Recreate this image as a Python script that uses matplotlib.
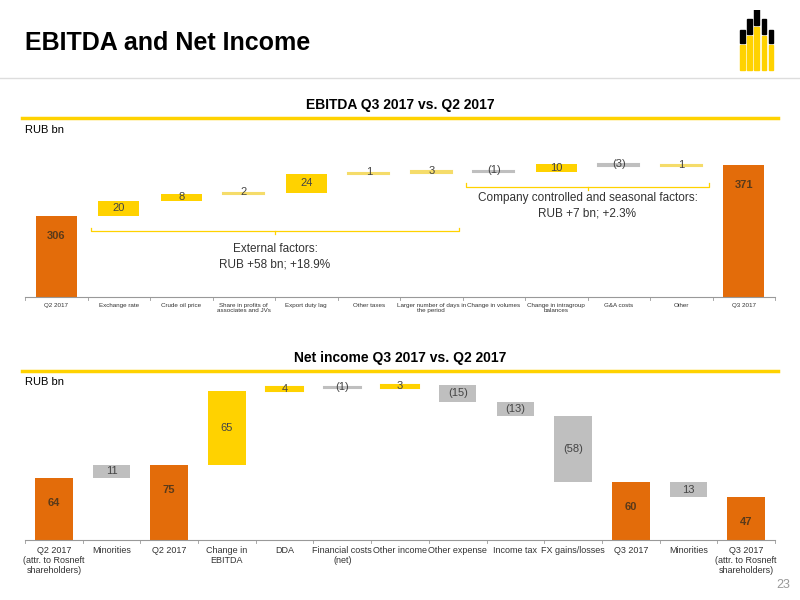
import matplotlib
matplotlib.use("Agg")
import matplotlib.pyplot as plt
from matplotlib.patches import Rectangle

plt.rcParams['font.family'] = ['Liberation Sans', 'DejaVu Sans']

top_cats = ["Q2 2017", "Exchange rate", "Crude oil price", "Share in profits of\nassociates and JVs",
            "Export duty lag", "Other taxes", "Larger number of days in\nthe period", "Change in volumes",
            "Change in intragroup\nbalances", "G&A costs", "Other", "Q3 2017"]
top_vals = [306, 20, 8, 2, 24, 1, 3, -1, 10, -3, 1, 371]

bot_cats = ["Q2 2017\n(attr. to Rosneft\nshareholders)", "Minorities", "Q2 2017", "Change in\nEBITDA", "DDA",
            "Financial costs\n(net)", "Other income", "Other expense", "Income tax", "FX gains/losses",
            "Q3 2017", "Minorities", "Q3 2017\n(attr. to Rosneft\nshareholders)"]
bot_vals = [64, 11, 75, 65, 4, -1, 3, -15, -13, -58, 60, -13, 47]
bot_total = [True, False, True, False, False, False, False, False, False, False, True, False, True]

ORANGE = "#E36C0A"
YELLOW = "#FFD200"
LYELLOW = "#F5DC6A"
GRAY = "#BFBFBF"

fig = plt.figure(figsize=(8, 6), dpi=100)
W, H = 800, 600
def ax_at(x0, y0, x1, y1):
    return fig.add_axes([x0 / W, 1 - y1 / H, (x1 - x0) / W, (y1 - y0) / H])

fig.text(25 / W, 1 - 43 / H, "EBITDA and Net Income", fontsize=18, fontweight='bold', va='center')
fig.add_artist(plt.Line2D([0, 1], [1 - 78 / H, 1 - 78 / H], color="#DDDDDD", lw=1))
fig.text(400 / W, 1 - 105 / H, "EBITDA Q3 2017 vs. Q2 2017", fontsize=10, fontweight='bold', ha='center', va='center')
fig.add_artist(plt.Line2D([22 / W, 778 / W], [1 - 118 / H] * 2, color=YELLOW, lw=2.5))
fig.text(25 / W, 1 - 130 / H, "RUB bn", fontsize=8, va='center')
fig.text(400 / W, 1 - 358 / H, "Net income Q3 2017 vs. Q2 2017", fontsize=10, fontweight='bold', ha='center', va='center')
fig.add_artist(plt.Line2D([22 / W, 778 / W], [1 - 371 / H] * 2, color=YELLOW, lw=2.5))
fig.text(25 / W, 1 - 382 / H, "RUB bn", fontsize=8, va='center')
fig.text(790 / W, 1 - 585 / H, "23", fontsize=9, color="#999999", ha='right', va='center')

# simple logo
lg = ax_at(736, 10, 778, 72)
lg.axis('off'); lg.set_xlim(0, 10); lg.set_ylim(0, 10)
for i, hgt in enumerate([4, 5.5, 7, 5.5, 4]):
    lg.add_patch(Rectangle((1 + i * 1.7, 0.3), 1.1, hgt, color=YELLOW))
    lg.add_patch(Rectangle((1 + i * 1.7, 0.3 + hgt + 0.3), 1.1, 2.8 - abs(i - 2) * 0.3, color="black"))

LABC = "#5a3a1a"

# Top waterfall
ax = ax_at(25, 145, 775, 297)
ax.set_xlim(-0.5, len(top_cats) - 0.5)
ax.set_ylim(203, 397)
cum = 0
for i, v in enumerate(top_vals):
    if i == 0 or i == len(top_vals) - 1:
        ax.bar(i, v - 203, bottom=203, width=0.65, color=ORANGE)
        ax.text(i, v - 25, str(v), ha='center', va='center', fontsize=8, fontweight='bold', color=LABC)
        cum = v
    else:
        lo = cum + min(v, 0)
        small = abs(v) < 8
        col = (LYELLOW if small else YELLOW) if v > 0 else GRAY
        ax.bar(i, abs(v), bottom=lo, width=0.65, color=col,
               edgecolor=col, linewidth=1.5 if small else 0)
        lab = str(v) if v > 0 else "(%d)" % -v
        ym = lo + abs(v) / 2
        ax.text(i, ym + (0 if not small else 1.5), lab, ha='center', va='center', fontsize=8, color="#444444")
        cum += v
for s in ['top', 'right', 'left']:
    ax.spines[s].set_visible(False)
ax.spines['bottom'].set_color("#999999")
ax.set_yticks([])
ax.set_xticks(range(len(top_cats)))
ax.set_xticklabels(top_cats, fontsize=4.5, color="#333333")
ax.tick_params(axis='x', length=0, pad=4)
for i in range(len(top_cats) + 1):
    ax.plot([i - 0.5] * 2, [203, 199], color="#999999", lw=0.6, clip_on=False)
def bracket(x0, x1, y, txt, ty):
    ax.plot([x0, x0, x1, x1], [y + 4, y, y, y + 4], color=YELLOW, lw=0.9)
    ax.plot([(x0 + x1) / 2] * 2, [y, y - 4], color=YELLOW, lw=0.9)
    ax.text((x0 + x1) / 2, ty, txt, ha='center', va='center', fontsize=8.5, color="#333333", linespacing=1.4)
bracket(0.55, 6.45, 287, "External factors:\nRUB +58 bn; +18.9%", 254)
bracket(6.55, 10.45, 344, "Company controlled and seasonal factors:\nRUB +7 bn; +2.3%", 320)

# Bottom waterfall
bx = ax_at(25, 380, 775, 540)
bx.set_xlim(-0.5, len(bot_cats) - 0.5)
base = 9
bx.set_ylim(base, 150)
cum = 0
for i, v in enumerate(bot_vals):
    if bot_total[i]:
        bx.bar(i, v - base, bottom=base, width=0.65, color=ORANGE)
        bx.text(i, v - 22, str(v), ha='center', va='center', fontsize=8, fontweight='bold', color=LABC)
        cum = v
    else:
        if i == 1:
            lo, hgt = 64, v
            cum = 64
        elif i == 11:
            lo, hgt = 47, 13
        else:
            lo = cum + min(v, 0); hgt = abs(v)
            cum += v
        col = YELLOW if v > 0 and i not in (1, 11) else GRAY
        small = hgt < 5
        bx.bar(i, hgt, bottom=lo, width=0.65, color=col, edgecolor=col, linewidth=1.5 if small else 0)
        lab = str(abs(v)) if (v > 0 or i == 11) else "(%d)" % -v
        bx.text(i, lo + hgt / 2, lab, ha='center', va='center', fontsize=8, color="#444444")
for s in ['top', 'right', 'left']:
    bx.spines[s].set_visible(False)
bx.spines['bottom'].set_color("#999999")
bx.set_yticks([])
bx.set_xticks(range(len(bot_cats)))
bx.set_xticklabels(bot_cats, fontsize=6.5, color="#333333", va='top')
bx.tick_params(axis='x', length=0, pad=4)
for i in range(len(bot_cats) + 1):
    bx.plot([i - 0.5] * 2, [base, base - 3], color="#999999", lw=0.6, clip_on=False)

fig.savefig("out.png", dpi=100)
